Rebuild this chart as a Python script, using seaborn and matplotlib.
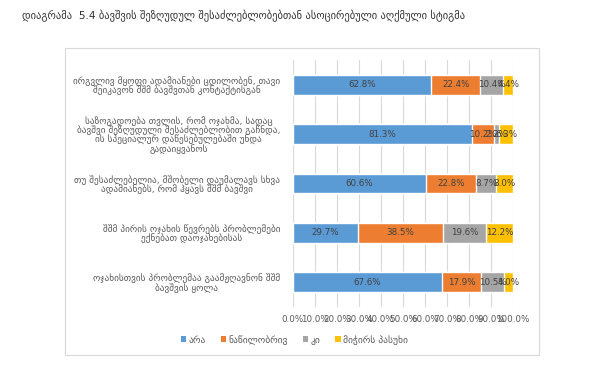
import numpy as np
import pandas as pd
import matplotlib
matplotlib.use('Agg')
import matplotlib.pyplot as plt
import seaborn as sns
from matplotlib.patches import Patch, Rectangle

# მონაცემები
categories = [
    'ირგვლივ მყოფი ადამიანები ცდილობენ, თავი\nშეიკავონ შშმ ბავშვთან კონტაქტისგან',
    'საზოგადოება თვლის, რომ ოჯახმა, სადაც\nბავშვი შეზღუდული შესაძლებლობით გაჩნდა,\nის სპეციალურ დაწესებულებაში უნდა\nგადაიყვანოს',
    'თუ შესაძლებელია, მშობელი დაუმალავს სხვა\nადამიანებს, რომ ჰყავს შშმ ბავშვი',
    'შშმ პირის ოჯახის წევრებს პრობლემები\nექნებათ დაოჯახებისას',
    'ოჯახისთვის პრობლემაა გაამჟღავნონ შშმ\nბავშვის ყოლა',
]
series_names = ['არა', 'ნაწილობრივ', 'კი', 'მიჭირს პასუხი']
ara = [62.8, 81.3, 60.6, 29.7, 67.6]
natsilobriv = [22.4, 10.2, 22.8, 38.5, 17.9]
ki = [10.4, 2.2, 8.7, 19.6, 10.5]
mitchirs = [4.4, 6.3, 8.0, 12.2, 4.0]
colors = ['#5B9BD5', '#ED7D31', '#A5A5A5', '#FFC000']
x_ticks = np.arange(0, 101, 10)

title = 'დიაგრამა  5.4 ბავშვის შეზღუდულ შესაძლებლობებთან ასოცირებული აღქმული სტიგმა'

sns.set_style('white')
plt.rcParams['font.family'] = ['DejaVu Sans']

values = np.array([ara, natsilobriv, ki, mitchirs])
cum = values.cumsum(axis=0)

fig = plt.figure(figsize=(6, 3.67), dpi=100)
ax = fig.add_axes([0.488, 0.1635, 0.367, 0.673])

# სტეკი: ბოლოდან დასაწყისისკენ ვხატავთ კუმულატიურ სიგრძეებს
for i in range(len(series_names) - 1, -1, -1):
    df = pd.DataFrame({'cat': categories, 'val': cum[i]})
    sns.barplot(data=df, x='val', y='cat', color=colors[i], width=0.4,
                saturation=1, ax=ax, orient='h')

# მონაცემთა წარწერები
for i in range(len(series_names)):
    for j in range(len(categories)):
        start = cum[i][j] - values[i][j]
        ax.text(start + values[i][j] / 2, j, f'{values[i][j]:.1f}%',
                ha='center', va='center', fontsize=6.3, color='#404040')

ax.set_xlim(0, 100)
ax.set_ylim(len(categories) - 0.5, -0.5)
ax.set_xticks(x_ticks)
ax.set_xticklabels([f'{t:.1f}%' for t in x_ticks], fontsize=6.3, color='#595959')
ax.tick_params(axis='x', length=0, pad=6)
ax.tick_params(axis='y', length=0, pad=9)
for lbl in ax.get_yticklabels():
    lbl.set_fontsize(6.7)
    lbl.set_color('#595959')
    lbl.set_multialignment('center')
    lbl.set_linespacing(0.92)
ax.set_xlabel('')
ax.set_ylabel('')
ax.grid(axis='x', color='#D9D9D9', linewidth=0.8)
ax.set_axisbelow(True)
for s in ax.spines.values():
    s.set_visible(False)

fig.text(22 / 600, 1 - 16 / 367, title, fontsize=7.6, color='#333333',
         ha='left', va='center')

handles = [Patch(facecolor=c, edgecolor='none', label=n) for c, n in zip(colors, series_names)]
fig.legend(handles=handles, loc='center', bbox_to_anchor=(294 / 600, 1 - 340 / 367),
           ncol=4, frameon=False, fontsize=6.8, handlelength=0.6, handleheight=0.6,
           handletextpad=0.2, columnspacing=1.6, labelcolor='#595959')

fig.patches.append(Rectangle((65 / 600, 1 - 355 / 367), 474 / 600, 307 / 367,
                             transform=fig.transFigure, fill=False,
                             edgecolor='#D9D9D9', linewidth=0.8))

fig.savefig('out.png', dpi=100)
